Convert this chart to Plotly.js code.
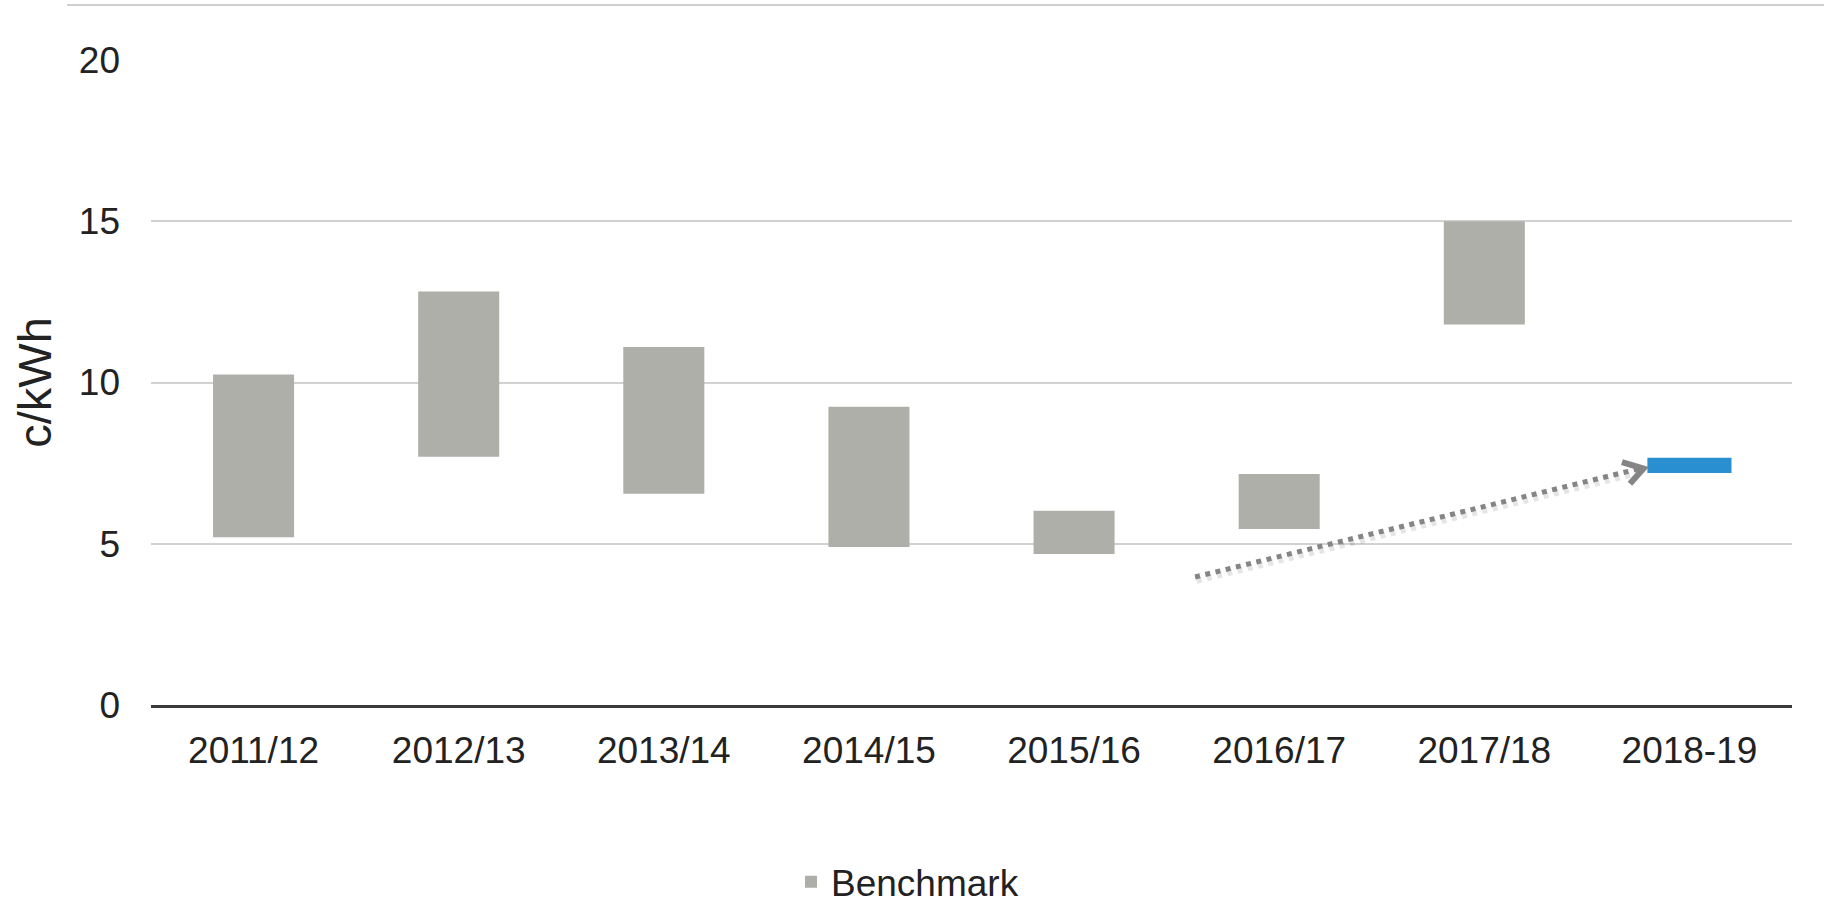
<!DOCTYPE html>
<html>
<head>
<meta charset="utf-8">
<script src="https://cdn.plot.ly/plotly-3.0.1.min.js"></script>
<style>
  html, body { margin: 0; padding: 0; background: #ffffff; }
  #chart { width: 1824px; height: 904px; }
</style>
</head>
<body>
<div id="chart"></div>
<script>
// Benchmark price ranges (c/kWh) per financial year: low and high end of each band
const years = ['2011/12', '2012/13', '2013/14', '2014/15', '2015/16', '2016/17', '2017/18'];
const benchmarkLow  = [5.2, 7.7, 6.55, 4.9, 4.68, 5.46, 11.8];
const benchmarkHigh = [10.25, 12.82, 11.1, 9.25, 6.02, 7.16, 15.0];

// Latest year, shown as a separate highlighted band
const latestYear = ['2018-19'];
const latestLow  = [7.19];
const latestHigh = [7.67];

const yTickValues = [0, 5, 10, 15, 20];

const allYears = years.concat(latestYear);
const yearIndex = allYears.map((_, i) => i);

const FONT = '"Liberation Sans", Arial, sans-serif';
const TEXT = '#222222';

const benchmarkTrace = {
  type: 'bar',
  name: 'Benchmark',
  x: yearIndex.slice(0, years.length),
  base: benchmarkLow,
  y: benchmarkHigh.map((h, i) => h - benchmarkLow[i]),
  width: 0.395,
  marker: { color: '#aeafa9', line: { width: 0 } },
  customdata: years,
  hovertemplate: '%{customdata}<extra></extra>'
};

const latestTrace = {
  type: 'bar',
  name: latestYear[0],
  showlegend: false,
  x: yearIndex.slice(years.length),
  base: latestLow,
  y: latestHigh.map((h, i) => h - latestLow[i]),
  width: 0.41,
  marker: { color: '#2a8fd1', line: { width: 0 } },
  hovertemplate: latestYear[0] + '<extra></extra>'
};

// Dotted trend arrow from the 2015/16–2016/17 region up to the latest band
const arrowDash = '5px,5.5px';
const shapes = [
  // faint drop shadow under the dotted arrow
  { type: 'line', xref: 'x', yref: 'y', x0: 4.598, y0: 3.85, x1: 6.757, y1: 7.2,
    line: { color: 'rgba(0,0,0,0.10)', width: 6, dash: arrowDash }, layer: 'above' },
  { type: 'line', xref: 'x', yref: 'y', x0: 4.59, y0: 3.97, x1: 6.75, y1: 7.32,
    line: { color: '#858585', width: 5, dash: arrowDash }, layer: 'above' },
  // open chevron head
  { type: 'path', xref: 'x', yref: 'y',
    path: 'M 6.671 7.53 L 6.776 7.33 L 6.71 6.86',
    line: { color: '#858585', width: 6 }, layer: 'above' },
  // thin rule across the top of the chart frame
  { type: 'line', xref: 'paper', yref: 'paper', x0: -0.0512, x1: 1.02, y0: 1.0853, y1: 1.0853,
    line: { color: '#cfcfcf', width: 2 } }
];

const layout = {
  width: 1824,
  height: 904,
  paper_bgcolor: '#ffffff',
  plot_bgcolor: '#ffffff',
  margin: { l: 151, r: 32, t: 60, b: 199, pad: 0, autoexpand: false },
  font: { family: FONT, color: TEXT, size: 37 },
  barmode: 'overlay',
  showlegend: true,
  legend: {
    orientation: 'h',
    x: 0.461, xanchor: 'center',
    yref: 'container',
    y: 0.024, yanchor: 'middle',
    font: { family: FONT, size: 37, color: TEXT },
    itemwidth: 30,
    bgcolor: 'rgba(0,0,0,0)'
  },
  xaxis: {
    type: 'linear',
    range: [-0.5, 7.5],
    tickmode: 'array',
    tickvals: yearIndex,
    ticktext: allYears,
    showgrid: false,
    zeroline: false,
    showline: true,
    linecolor: '#3a3a3a',
    linewidth: 2.5,
    ticks: '',
    ticklabelstandoff: 11,
    tickfont: { family: FONT, size: 37, color: TEXT },
    automargin: false,
    fixedrange: true
  },
  yaxis: {
    range: [0, 20],
    tickmode: 'array',
    tickvals: yTickValues,
    ticktext: yTickValues.map(String),
    showgrid: true,
    gridcolor: '#d2d2d2',
    gridwidth: 2,
    zeroline: false,
    showline: false,
    ticks: '',
    ticklabelstandoff: 30,
    tickfont: { family: FONT, size: 37, color: TEXT },
    title: { text: 'c/kWh', font: { family: FONT, size: 47, color: TEXT }, standoff: 12 },
    automargin: false,
    fixedrange: true
  },
  shapes: shapes
};

Plotly.newPlot('chart', [benchmarkTrace, latestTrace], layout, { displayModeBar: false, staticPlot: true });
</script>
</body>
</html>
